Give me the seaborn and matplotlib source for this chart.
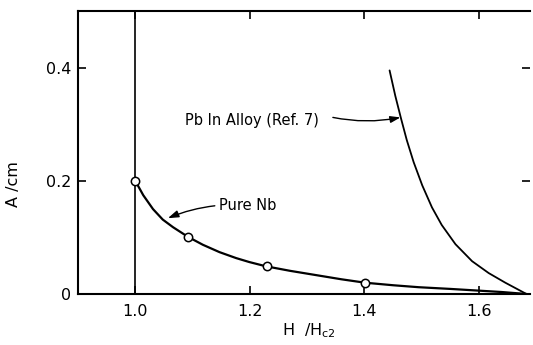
import matplotlib
matplotlib.use("Agg")
import matplotlib.pyplot as plt
import seaborn as sns
import pandas as pd

# ---- data ----
nb_curve_x = [1.000, 1.014, 1.031, 1.048, 1.066, 1.092, 1.118, 1.147, 1.176, 1.199,
              1.228, 1.270, 1.315, 1.360, 1.401, 1.450, 1.495, 1.550, 1.599, 1.640, 1.683]
nb_curve_y = [0.200, 0.1745, 0.150, 0.1315, 0.118, 0.101, 0.087, 0.074, 0.0635, 0.0565,
              0.049, 0.041, 0.0335, 0.026, 0.020, 0.0155, 0.012, 0.009, 0.006, 0.0035, 0.0]
nb_points_x = [1.000, 1.092, 1.230, 1.401]
nb_points_y = [0.200, 0.101, 0.049, 0.020]
pb_curve_x = [1.444, 1.454, 1.464, 1.474, 1.486, 1.501, 1.518, 1.535, 1.559, 1.588,
              1.617, 1.646, 1.683]
pb_curve_y = [0.395, 0.350, 0.310, 0.272, 0.233, 0.192, 0.153, 0.122, 0.088, 0.058,
              0.037, 0.020, 0.0]
vline_x = 1.0
x_ticks = [1.0, 1.2, 1.4, 1.6]
x_tick_labels = ["1.0", "1.2", "1.4", "1.6"]
y_ticks = [0.0, 0.2, 0.4]
y_tick_labels = ["0", "0.2", "0.4"]
label_nb = "Pure Nb"
label_pb = "Pb In Alloy (Ref. 7)"

sns.set_style("ticks")
plt.rcParams["font.family"] = ["DejaVu Sans"]
plt.rcParams["text.color"] = "black"

fig = plt.figure(figsize=(5.33, 3.45), dpi=100)
ax = fig.add_axes([0.1463, 0.1478, 0.849, 0.8203])

nb_df = pd.DataFrame({"x": nb_curve_x, "y": nb_curve_y})
pb_df = pd.DataFrame({"x": pb_curve_x, "y": pb_curve_y})
pts_df = pd.DataFrame({"x": nb_points_x, "y": nb_points_y})

ax.axvline(vline_x, color="black", lw=1.2, zorder=1)
sns.lineplot(data=nb_df, x="x", y="y", ax=ax, color="black", lw=1.6, zorder=2)
sns.lineplot(data=pb_df, x="x", y="y", ax=ax, color="black", lw=1.3, zorder=2)
for ln in ax.lines:
    ln.set_solid_joinstyle("round")
sns.scatterplot(data=pts_df, x="x", y="y", ax=ax, s=36, facecolor="white",
                edgecolor="black", linewidth=1.1, zorder=3, clip_on=False)

ax.set_xlim(0.9, 1.69)
ax.set_ylim(0, 0.5)
ax.set_xticks(x_ticks)
ax.set_xticklabels(x_tick_labels)
ax.set_yticks(y_ticks)
ax.set_yticklabels(y_tick_labels)

ax.tick_params(axis="both", direction="in", length=6, width=1.2,
               labelsize=11.5, color="black", labelcolor="black")
ax.tick_params(axis="x", top=True, pad=7)
ax.tick_params(axis="y", right=True, pad=5)

for side in ["left", "top", "bottom"]:
    ax.spines[side].set_linewidth(1.5)
    ax.spines[side].set_color("black")
ax.spines["right"].set_visible(False)

ax.set_xlabel("H  /H$_{\\mathregular{c2}}$", fontsize=11.5, color="black")
ax.set_ylabel("A /cm", fontsize=11.5, color="black")
ax.xaxis.set_label_coords(0.51, -0.095)
ax.yaxis.set_label_coords(-0.125, 0.39)

head = "-|>,head_length=0.6,head_width=0.2"
ax.annotate(label_nb, xy=(1.057, 0.134), xytext=(1.147, 0.157), color="black",
            fontsize=10.5, va="center", ha="left",
            arrowprops=dict(arrowstyle=head, color="black", lw=1.0,
                            connectionstyle="arc3,rad=0.12", shrinkA=1, shrinkB=0))
ax.annotate(label_pb, xy=(1.463, 0.312), xytext=(1.086, 0.307), color="black",
            fontsize=10.5, va="center", ha="left")
ax.annotate("", xy=(1.463, 0.312), xytext=(1.345, 0.312),
            arrowprops=dict(arrowstyle=head, color="black", lw=1.0,
                            connectionstyle="arc3,rad=0.1", shrinkA=0, shrinkB=0))

fig.savefig("out.png", dpi=100)
